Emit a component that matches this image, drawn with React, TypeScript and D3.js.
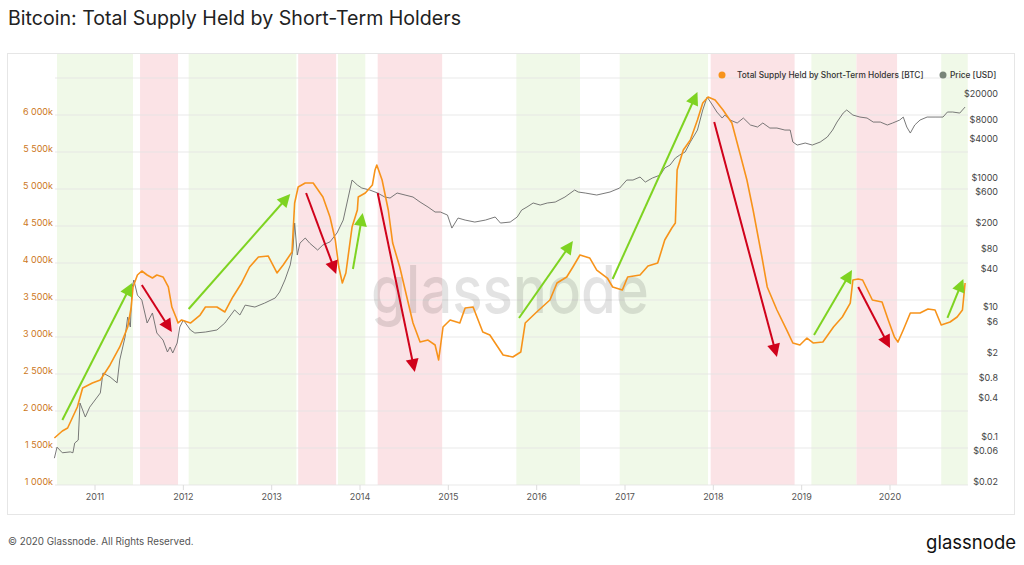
import React from "react";
import * as d3 from "d3";

// ---------- DATA ----------
const STH_YEAR = [2010.54, 2010.63, 2010.69, 2010.8, 2010.86, 2010.97, 2011.06, 2011.17, 2011.28, 2011.37, 2011.41, 2011.43, 2011.48, 2011.53, 2011.59, 2011.65, 2011.7, 2011.77, 2011.83, 2011.87, 2011.92, 2011.94, 2011.98, 2012.08, 2012.19, 2012.25, 2012.38, 2012.47, 2012.56, 2012.66, 2012.75, 2012.85, 2012.96, 2013.06, 2013.13, 2013.23, 2013.26, 2013.3, 2013.38, 2013.47, 2013.58, 2013.66, 2013.72, 2013.76, 2013.8, 2013.84, 2013.91, 2013.97, 2013.98, 2014.06, 2014.14, 2014.17, 2014.19, 2014.25, 2014.32, 2014.37, 2014.45, 2014.53, 2014.6, 2014.68, 2014.77, 2014.85, 2014.89, 2014.94, 2015.02, 2015.13, 2015.19, 2015.28, 2015.39, 2015.47, 2015.56, 2015.62, 2015.73, 2015.82, 2015.87, 2016.0, 2016.15, 2016.23, 2016.34, 2016.41, 2016.49, 2016.6, 2016.68, 2016.8, 2016.86, 2016.97, 2017.03, 2017.17, 2017.26, 2017.37, 2017.45, 2017.53, 2017.57, 2017.59, 2017.66, 2017.74, 2017.82, 2017.88, 2017.94, 2018.02, 2018.11, 2018.21, 2018.3, 2018.38, 2018.45, 2018.55, 2018.61, 2018.72, 2018.83, 2018.9, 2018.98, 2019.06, 2019.13, 2019.24, 2019.36, 2019.46, 2019.55, 2019.58, 2019.64, 2019.69, 2019.8, 2019.91, 2019.98, 2020.05, 2020.09, 2020.15, 2020.23, 2020.34, 2020.43, 2020.51, 2020.58, 2020.68, 2020.76, 2020.82, 2020.85];
// thousands of BTC
const STH_SUPPLY_K = [1635, 1730, 1770, 2054, 2311, 2378, 2419, 2622, 2865, 3135, 3405, 3676, 3838, 3892, 3838, 3797, 3838, 3811, 3676, 3405, 3257, 3189, 3230, 3189, 3297, 3405, 3405, 3338, 3541, 3730, 3946, 4081, 4095, 3865, 3973, 4149, 4811, 5027, 5081, 5081, 4892, 4622, 4311, 3946, 3730, 3865, 4486, 4716, 4892, 4946, 5054, 5257, 5324, 5122, 4716, 4270, 3946, 3541, 3189, 2932, 2959, 2892, 2689, 3135, 3230, 3189, 3392, 3405, 3068, 3027, 2865, 2757, 2730, 2797, 3189, 3338, 3500, 3730, 3811, 3946, 4108, 4068, 3905, 3797, 3676, 3635, 3811, 3838, 3960, 4000, 4311, 4473, 4541, 5257, 5527, 5662, 5932, 6162, 6243, 6203, 6068, 5892, 5486, 5122, 4716, 4081, 3676, 3365, 3095, 2919, 2892, 2986, 2919, 2932, 3135, 3270, 3459, 3770, 3784, 3770, 3500, 3473, 3230, 3000, 2932, 3095, 3324, 3324, 3378, 3365, 3162, 3203, 3270, 3365, 3730];

const PRICE_YEAR = [2010.54, 2010.57, 2010.63, 2010.72, 2010.75, 2010.77, 2010.81, 2010.83, 2010.89, 2010.94, 2011.06, 2011.09, 2011.17, 2011.25, 2011.28, 2011.34, 2011.37, 2011.4, 2011.42, 2011.44, 2011.48, 2011.53, 2011.59, 2011.65, 2011.7, 2011.77, 2011.82, 2011.85, 2011.88, 2011.93, 2011.96, 2012.0, 2012.08, 2012.13, 2012.25, 2012.38, 2012.47, 2012.58, 2012.64, 2012.7, 2012.81, 2012.92, 2013.04, 2013.09, 2013.15, 2013.21, 2013.24, 2013.26, 2013.29, 2013.32, 2013.38, 2013.43, 2013.52, 2013.58, 2013.66, 2013.74, 2013.81, 2013.86, 2013.91, 2013.97, 2014.02, 2014.11, 2014.2, 2014.28, 2014.34, 2014.42, 2014.51, 2014.6, 2014.68, 2014.77, 2014.85, 2014.91, 2014.99, 2015.04, 2015.11, 2015.19, 2015.3, 2015.42, 2015.53, 2015.59, 2015.7, 2015.78, 2015.83, 2015.89, 2015.96, 2016.04, 2016.12, 2016.21, 2016.32, 2016.43, 2016.47, 2016.55, 2016.68, 2016.83, 2016.94, 2017.02, 2017.09, 2017.17, 2017.23, 2017.31, 2017.4, 2017.45, 2017.51, 2017.57, 2017.62, 2017.68, 2017.74, 2017.82, 2017.88, 2017.93, 2017.99, 2018.04, 2018.1, 2018.13, 2018.19, 2018.27, 2018.34, 2018.42, 2018.5, 2018.56, 2018.64, 2018.72, 2018.81, 2018.87, 2018.9, 2018.95, 2019.04, 2019.12, 2019.21, 2019.29, 2019.35, 2019.4, 2019.47, 2019.51, 2019.58, 2019.66, 2019.74, 2019.81, 2019.89, 2019.97, 2020.03, 2020.11, 2020.15, 2020.19, 2020.23, 2020.28, 2020.34, 2020.42, 2020.51, 2020.6, 2020.65, 2020.71, 2020.79, 2020.85];
const PRICE_USD = [0.052, 0.077, 0.063, 0.065, 0.063, 0.089, 0.099, 0.37, 0.225, 0.32, 0.53, 1.08, 0.94, 0.76, 1.71, 3.89, 7.92, 5.55, 23.0, 29.6, 17.3, 14.5, 6.4, 9.14, 4.48, 3.49, 2.28, 2.72, 2.2, 3.14, 5.55, 7.12, 4.99, 4.48, 4.64, 4.99, 6.4, 10.2, 8.51, 12.1, 11.3, 13.0, 15.6, 19.3, 29.6, 50.5, 86, 225, 72, 110, 132, 110, 86, 103, 115, 158, 250, 511, 1040, 871, 783, 729, 655, 568, 548, 655, 610, 568, 475, 398, 333, 333, 299, 188, 269, 250, 233, 250, 279, 225, 233, 279, 357, 398, 459, 427, 459, 475, 568, 729, 679, 655, 610, 679, 783, 1040, 1040, 1158, 968, 1117, 1245, 1596, 1775, 2277, 2535, 2818, 4027, 6166, 12590, 20000, 15030, 11720, 9460, 10520, 8810, 7925, 9460, 7380, 6870, 7925, 6625, 6625, 6166, 6166, 4027, 3615, 3883, 3615, 4027, 4810, 6166, 8200, 11300, 12590, 10520, 9795, 9460, 8200, 8200, 7380, 7925, 8810, 9795, 6870, 5546, 7380, 8810, 9795, 9795, 9795, 11720, 11720, 11300, 14000];

const BAND_START = [2010.57, 2011.51, 2012.06, 2013.3, 2013.75, 2014.2, 2015.77, 2016.94, 2017.97, 2019.11, 2019.62, 2020.58];
const BAND_END = [2011.43, 2011.94, 2013.28, 2013.73, 2014.06, 2014.93, 2016.49, 2017.94, 2018.92, 2019.62, 2020.08, 2020.88];
const BAND_KIND = ["up", "down", "up", "down", "up", "down", "up", "up", "down", "up", "down", "up"];

const ARROW_KIND = ["up", "down", "up", "down", "up", "down", "up", "up", "down", "up", "down", "up"];
const ARROW_FROM_YEAR = [2010.63, 2011.53, 2012.06, 2013.39, 2013.92, 2014.2, 2015.8, 2016.86, 2018.01, 2019.14, 2019.64, 2020.65];
const ARROW_FROM_K = [1878, 3703, 3378, 4946, 3919, 4946, 3257, 3784, 5905, 3027, 3676, 3257];
const ARROW_TO_YEAR = [2011.42, 2011.87, 2013.21, 2013.73, 2014.03, 2014.62, 2016.41, 2017.82, 2018.72, 2019.57, 2020.0, 2020.83];
const ARROW_TO_K = [3730, 3068, 4932, 3851, 4676, 2527, 4297, 6311, 2730, 3905, 2851, 3784];

const YEAR_TICKS = [2011, 2012, 2013, 2014, 2015, 2016, 2017, 2018, 2019, 2020];
const LEFT_TICKS = [1000, 1500, 2000, 2500, 3000, 3500, 4000, 4500, 5000, 5500, 6000];
const LEFT_GRID = [1000, 1500, 2000, 2500, 3000, 3500, 4000, 4500, 5000, 5500, 6000, 6500];
const RIGHT_TICKS = [0.02, 0.06, 0.1, 0.4, 0.8, 2, 6, 10, 40, 80, 200, 600, 1000, 4000, 8000, 20000];

// ---------- LAYOUT ----------
const W = 1024;
const H = 565;
const PLOT = { left: 55, right: 968, top: 78, bottom: 485 };
const FONT = "Inter, 'Noto Sans', sans-serif";
const ORANGE = "#f7931a";
const GREEN = "#7ed321";
const RED = "#d0021b";

export default function App() {
  const x = d3.scaleLinear().domain([2010.547, 2020.883]).range([PLOT.left, PLOT.right]);
  const yL = d3.scaleLinear().domain([1000, 6500]).range([PLOT.bottom, PLOT.top]);
  const yR = d3.scaleLog().domain([0.02, 39360]).range([PLOT.bottom, PLOT.top]);

  const sth = STH_YEAR.map((t, i) => [t, STH_SUPPLY_K[i]] as [number, number]);
  const price = PRICE_YEAR.map((t, i) => [t, PRICE_USD[i]] as [number, number]);

  const sthLine = d3.line<[number, number]>().x((d) => x(d[0])).y((d) => yL(d[1]));
  const priceLine = d3.line<[number, number]>().x((d) => x(d[0])).y((d) => yR(d[1]));

  const fmtK = (v: number) => d3.format(",")(v).replace(",", " ") + "k";
  const fmtUsd = (v: number) => "$" + String(v);

  const arrows = ARROW_KIND.map((k, i) => {
    const x1 = x(ARROW_FROM_YEAR[i]);
    const y1 = yL(ARROW_FROM_K[i]);
    const x2 = x(ARROW_TO_YEAR[i]);
    const y2 = yL(ARROW_TO_K[i]);
    const dx = x2 - x1;
    const dy = y2 - y1;
    const len = Math.sqrt(dx * dx + dy * dy);
    const ux = dx / len;
    const uy = dy / len;
    const hl = 13;
    const hw = 6.5;
    const bx = x2 - ux * hl;
    const by = y2 - uy * hl;
    const pts = `${x2},${y2} ${bx - uy * hw},${by + ux * hw} ${bx + uy * hw},${by - ux * hw}`;
    const col = k === "up" ? GREEN : RED;
    return (
      <g key={"a" + i}>
        <line x1={x1} y1={y1} x2={bx + ux * 2} y2={by + uy * 2} stroke={col} strokeWidth={2} />
        <polygon points={pts} fill={col} />
      </g>
    );
  });

  return (
    <div style={{ position: "absolute", left: 0, top: 0, width: W, height: H, background: "#fff" }}>
      <svg width={W} height={H} style={{ display: "block", fontFamily: FONT }}>
        <rect x={0} y={0} width={W} height={H} fill="#fff" />
        <text x={8} y={24.5} fontSize={19.6} fill="#222">
          Bitcoin: Total Supply Held by Short-Term Holders
        </text>

        {/* panel */}
        <rect x={7.5} y={53.5} width={1007} height={461} fill="#fff" stroke="#e6e6e6" />

        {/* bands */}
        {BAND_KIND.map((k, i) => (
          <rect
            key={"b" + i}
            x={x(BAND_START[i])}
            y={54}
            width={x(BAND_END[i]) - x(BAND_START[i])}
            height={PLOT.bottom - 54}
            fill={k === "up" ? "#f0f9e8" : "#fbe3e6"}
          />
        ))}

        {/* grid */}
        {LEFT_GRID.map((v) => (
          <line key={"g" + v} x1={PLOT.left} x2={PLOT.right} y1={yL(v)} y2={yL(v)} stroke="#e3e3e3" strokeOpacity={0.8} strokeWidth={1} />
        ))}
        {YEAR_TICKS.map((t) => (
          <line key={"t" + t} x1={x(t)} x2={x(t)} y1={PLOT.bottom} y2={PLOT.bottom + 5} stroke="#dcdcdc" />
        ))}

        {/* watermark */}
        <text x={510} y={313} fontSize={66} textAnchor="middle" fill="#000" fillOpacity={0.11} textLength={278} lengthAdjust="spacingAndGlyphs" fontWeight={500}>
          glassnode
        </text>

        {/* series */}
        <path d={priceLine(price) || ""} fill="none" stroke="#6a6a6a" strokeWidth={0.9} />
        <path d={sthLine(sth) || ""} fill="none" stroke={ORANGE} strokeWidth={1.6} strokeLinejoin="round" />

        {arrows}

        {/* left axis */}
        {LEFT_TICKS.map((v) => (
          <text key={"l" + v} x={53} y={yL(v)} fontSize={9} textAnchor="end" fill="#cc7722">
            {fmtK(v)}
          </text>
        ))}
        {/* right axis */}
        {RIGHT_TICKS.map((v) => (
          <text key={"r" + v} x={998} y={yR(v)} fontSize={9} textAnchor="end" fill="#444">
            {fmtUsd(v)}
          </text>
        ))}
        {/* x axis */}
        {YEAR_TICKS.map((t) => (
          <text key={"x" + t} x={x(t)} y={500} fontSize={9} textAnchor="middle" fill="#555">
            {t}
          </text>
        ))}

        {/* legend */}
        <circle cx={722} cy={75} r={3.5} fill={ORANGE} />
        <text x={737} y={78} fontSize={8.3} fill="#333" fontWeight={500}>
          Total Supply Held by Short-Term Holders [BTC]
        </text>
        <circle cx={943} cy={75} r={3.5} fill="#788478" />
        <text x={950} y={78} fontSize={8.3} fill="#333" fontWeight={500}>
          Price [USD]
        </text>

        {/* footer */}
        <text x={8} y={545} fontSize={9.8} fill="#555">
          © 2020 Glassnode. All Rights Reserved.
        </text>
        <text x={1016} y={549} fontSize={18.5} textAnchor="end" fill="#111" fontWeight={400}>
          glassnode
        </text>
      </svg>
    </div>
  );
}
